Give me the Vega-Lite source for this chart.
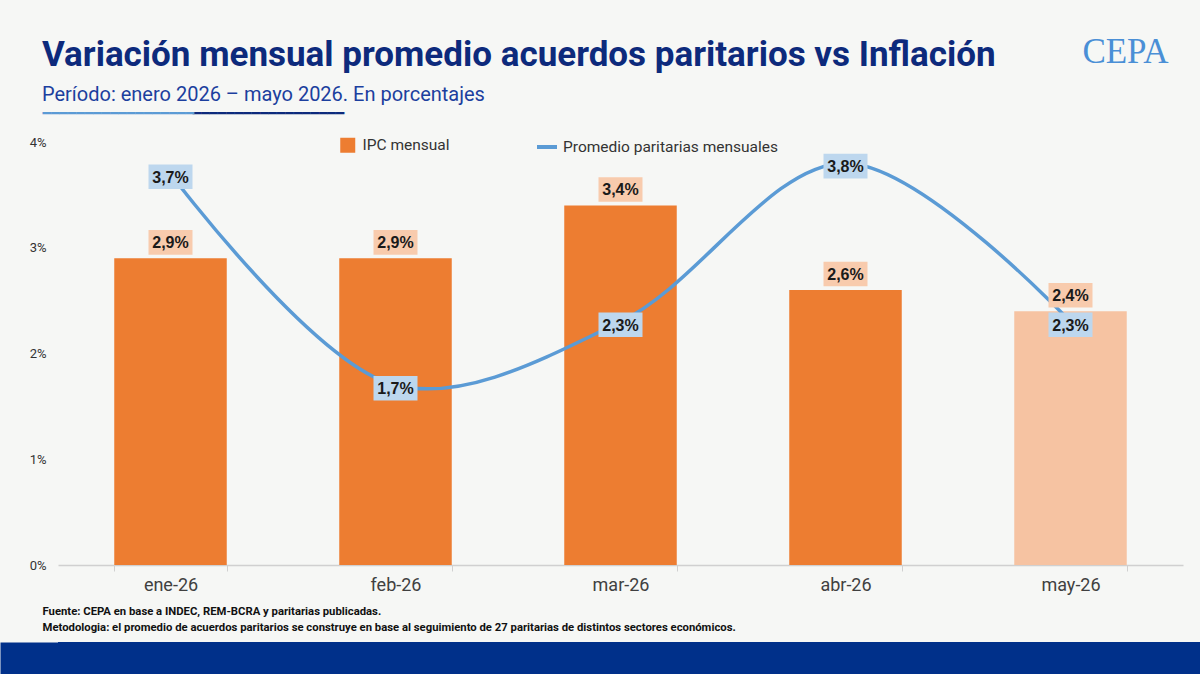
{
  "$schema": "https://vega.github.io/schema/vega-lite/v6.json",
  "background": "#f6f7f5",
  "padding": {"left": 0, "right": 0, "top": 34, "bottom": 0},
  "title": {
    "text": "Variación mensual promedio acuerdos paritarios vs Inflación",
    "subtitle": "Período: enero 2026 – mayo 2026. En porcentajes",
    "anchor": "start",
    "frame": "bounds",
    "dx": 42,
    "offset": -71,
    "font": "Roboto",
    "fontSize": 35,
    "fontWeight": "bold",
    "color": "#0d2a7c",
    "subtitleFont": "Roboto",
    "subtitleFontSize": 20,
    "subtitleColor": "#1c3f9e",
    "subtitlePadding": 12
  },
  "config": {
    "locale": {"number": {"decimal": ",", "thousands": ".", "grouping": [3], "currency": ["$", ""]}},
    "view": {"stroke": null},
    "font": "Roboto"
  },
  "columns": 1,
  "align": "none",
  "spacing": 9,
  "concat": [
    {
      "width": 1125,
      "height": 423,
      "data": {
        "values": [
          {"mes": "ene-26", "ipc": 0.029, "paritarias": 0.037, "estimado": false},
          {"mes": "feb-26", "ipc": 0.029, "paritarias": 0.017, "estimado": false},
          {"mes": "mar-26", "ipc": 0.034, "paritarias": 0.023, "estimado": false},
          {"mes": "abr-26", "ipc": 0.026, "paritarias": 0.038, "estimado": false},
          {"mes": "may-26", "ipc": 0.024, "paritarias": 0.023, "estimado": true}
        ]
      },
      "resolve": {"axis": {"x": "independent", "y": "independent"}},
      "layer": [
        {
          "mark": {"type": "bar"},
          "encoding": {
            "x": {
              "field": "mes",
              "type": "nominal",
              "sort": null,
              "scale": {"paddingInner": 0.5, "paddingOuter": 0.25},
              "axis": {
                "orient": "bottom",
                "labelAngle": 0,
                "labelFont": "Roboto",
                "labelFontSize": 18,
                "labelColor": "#404040",
                "labelPadding": 5,
                "tickBand": "extent",
                "tickSize": 6,
                "tickColor": "#d0d0d0",
                "domainColor": "#d0d0d0",
                "domainWidth": 1.5,
                "title": [
                  "Fuente: CEPA en base a INDEC, REM-BCRA y paritarias publicadas.",
                  "Metodologia: el promedio de acuerdos paritarios se construye en base al seguimiento de 27 paritarias de distintos sectores económicos."
                ],
                "titleAnchor": "start",
                "titleAlign": "left",
                "titleBaseline": "alphabetic",
                "titleX": -16,
                "titleY": 49,
                "titleFont": "Roboto",
                "titleFontSize": 11.3,
                "titleFontWeight": "bold",
                "titleColor": "#111111",
                "titleLineHeight": 16
              }
            },
            "y": {
              "field": "ipc",
              "type": "quantitative",
              "scale": {"domain": [0, 0.04], "nice": false},
              "axis": {
                "orient": "left",
                "values": [0, 0.01, 0.02, 0.03, 0.04],
                "format": ".0%",
                "labelFont": "Roboto",
                "labelFontSize": 13,
                "labelColor": "#333333",
                "labelPadding": 12,
                "ticks": false,
                "domain": false,
                "grid": false,
                "minExtent": 58,
                "title": "━━━━━━━━━━━━━━━━━━",
                "titleAngle": 0,
                "titleAlign": "left",
                "titleBaseline": "middle",
                "titleX": -16,
                "titleY": -29,
                "titleFont": "DejaVu Sans Mono",
                "titleFontSize": 14,
                "titleFontWeight": "bold",
                "titleColor": "#5b9bd5"
              }
            },
            "color": {
              "condition": {"test": "datum.estimado", "value": "#f6c3a2"},
              "datum": "IPC mensual",
              "scale": {"range": ["#ed7d31"]},
              "legend": {
                "orient": "none",
                "legendX": 282,
                "legendY": -4.5,
                "title": null,
                "padding": 0,
                "symbolType": "square",
                "symbolSize": 225,
                "symbolStrokeWidth": 0,
                "labelFont": "Roboto",
                "labelFontSize": 15.5,
                "labelColor": "#333333",
                "labelOffset": 7,
                "labelLimit": 300
              }
            }
          }
        },
        {
          "mark": {"type": "line", "interpolate": "catmull-rom", "strokeWidth": 3.5, "strokeCap": "round"},
          "encoding": {
            "x": {
              "field": "mes",
              "type": "nominal",
              "sort": null,
              "axis": {
                "orient": "top",
                "labels": false,
                "ticks": false,
                "domain": false,
                "title": "━━━━━━━━━━━━━━━━━━",
                "titleAnchor": "start",
                "titleAlign": "left",
                "titleBaseline": "middle",
                "titleX": 134,
                "titleY": -29,
                "titleFont": "DejaVu Sans Mono",
                "titleFontSize": 14,
                "titleFontWeight": "bold",
                "titleColor": "#0d2a7c"
              }
            },
            "y": {
              "field": "paritarias",
              "type": "quantitative",
              "axis": {
                "orient": "right",
                "labels": false,
                "ticks": false,
                "domain": false,
                "grid": false,
                "title": "CEPA",
                "titleAngle": 0,
                "titleAlign": "center",
                "titleBaseline": "alphabetic",
                "titleX": -58,
                "titleY": -80,
                "titleFont": "Liberation Serif",
                "titleFontSize": 35,
                "titleFontWeight": "normal",
                "titleColor": "#4a8fd6"
              }
            },
            "stroke": {
              "datum": "Promedio paritarias mensuales",
              "scale": {"range": ["#5b9bd5"]},
              "legend": {
                "orient": "none",
                "legendX": 477,
                "legendY": -7,
                "title": null,
                "padding": 0,
                "symbolType": "stroke",
                "symbolSize": 400,
                "symbolStrokeWidth": 4,
                "labelFont": "Roboto",
                "labelFontSize": 15.5,
                "labelColor": "#333333",
                "labelOffset": 4,
                "labelLimit": 300
              }
            }
          }
        },
        {
          "mark": {"type": "point", "shape": "M-1,-0.56H1V0.56H-1Z", "size": 1936, "filled": true, "opacity": 1, "fill": "#f8cbad", "strokeWidth": 0, "yOffset": -16},
          "encoding": {
            "x": {"field": "mes", "type": "nominal", "sort": null, "axis": null},
            "y": {"field": "ipc", "type": "quantitative", "axis": null}
          }
        },
        {
          "mark": {"type": "text", "font": "Liberation Sans", "fontSize": 16, "fontWeight": "bold", "color": "#1a1a1a", "baseline": "middle", "yOffset": -15},
          "encoding": {
            "x": {"field": "mes", "type": "nominal", "sort": null, "axis": null},
            "y": {"field": "ipc", "type": "quantitative", "axis": null},
            "text": {"field": "ipc", "type": "quantitative", "format": ".1%"}
          }
        },
        {
          "mark": {"type": "point", "shape": "M-1,-0.56H1V0.56H-1Z", "size": 1936, "filled": true, "opacity": 1, "fill": "#bdd7ee", "strokeWidth": 0, "yOffset": 3},
          "encoding": {
            "x": {"field": "mes", "type": "nominal", "sort": null, "axis": null},
            "y": {"field": "paritarias", "type": "quantitative", "axis": null}
          }
        },
        {
          "mark": {"type": "text", "font": "Liberation Sans", "fontSize": 16, "fontWeight": "bold", "color": "#1a1a1a", "baseline": "middle", "yOffset": 4},
          "encoding": {
            "x": {"field": "mes", "type": "nominal", "sort": null, "axis": null},
            "y": {"field": "paritarias", "type": "quantitative", "axis": null},
            "text": {"field": "paritarias", "type": "quantitative", "format": ".1%"}
          }
        }
      ]
    },
    {
      "width": 1142,
      "height": 32,
      "view": {"fill": "#00308a", "stroke": null},
      "data": {"values": [{"banda": "pie"}]},
      "mark": {"type": "rect", "color": "#00308a"},
      "encoding": {
        "y": {
          "datum": 0,
          "type": "quantitative",
          "scale": {"domain": [0, 1]},
          "axis": {
            "orient": "left",
            "domain": true,
            "domainWidth": 116,
            "domainColor": "#00308a",
            "domainCap": "butt",
            "labels": false,
            "ticks": false,
            "grid": false,
            "title": null
          }
        },
        "y2": {"datum": 1}
      }
    }
  ]
}
